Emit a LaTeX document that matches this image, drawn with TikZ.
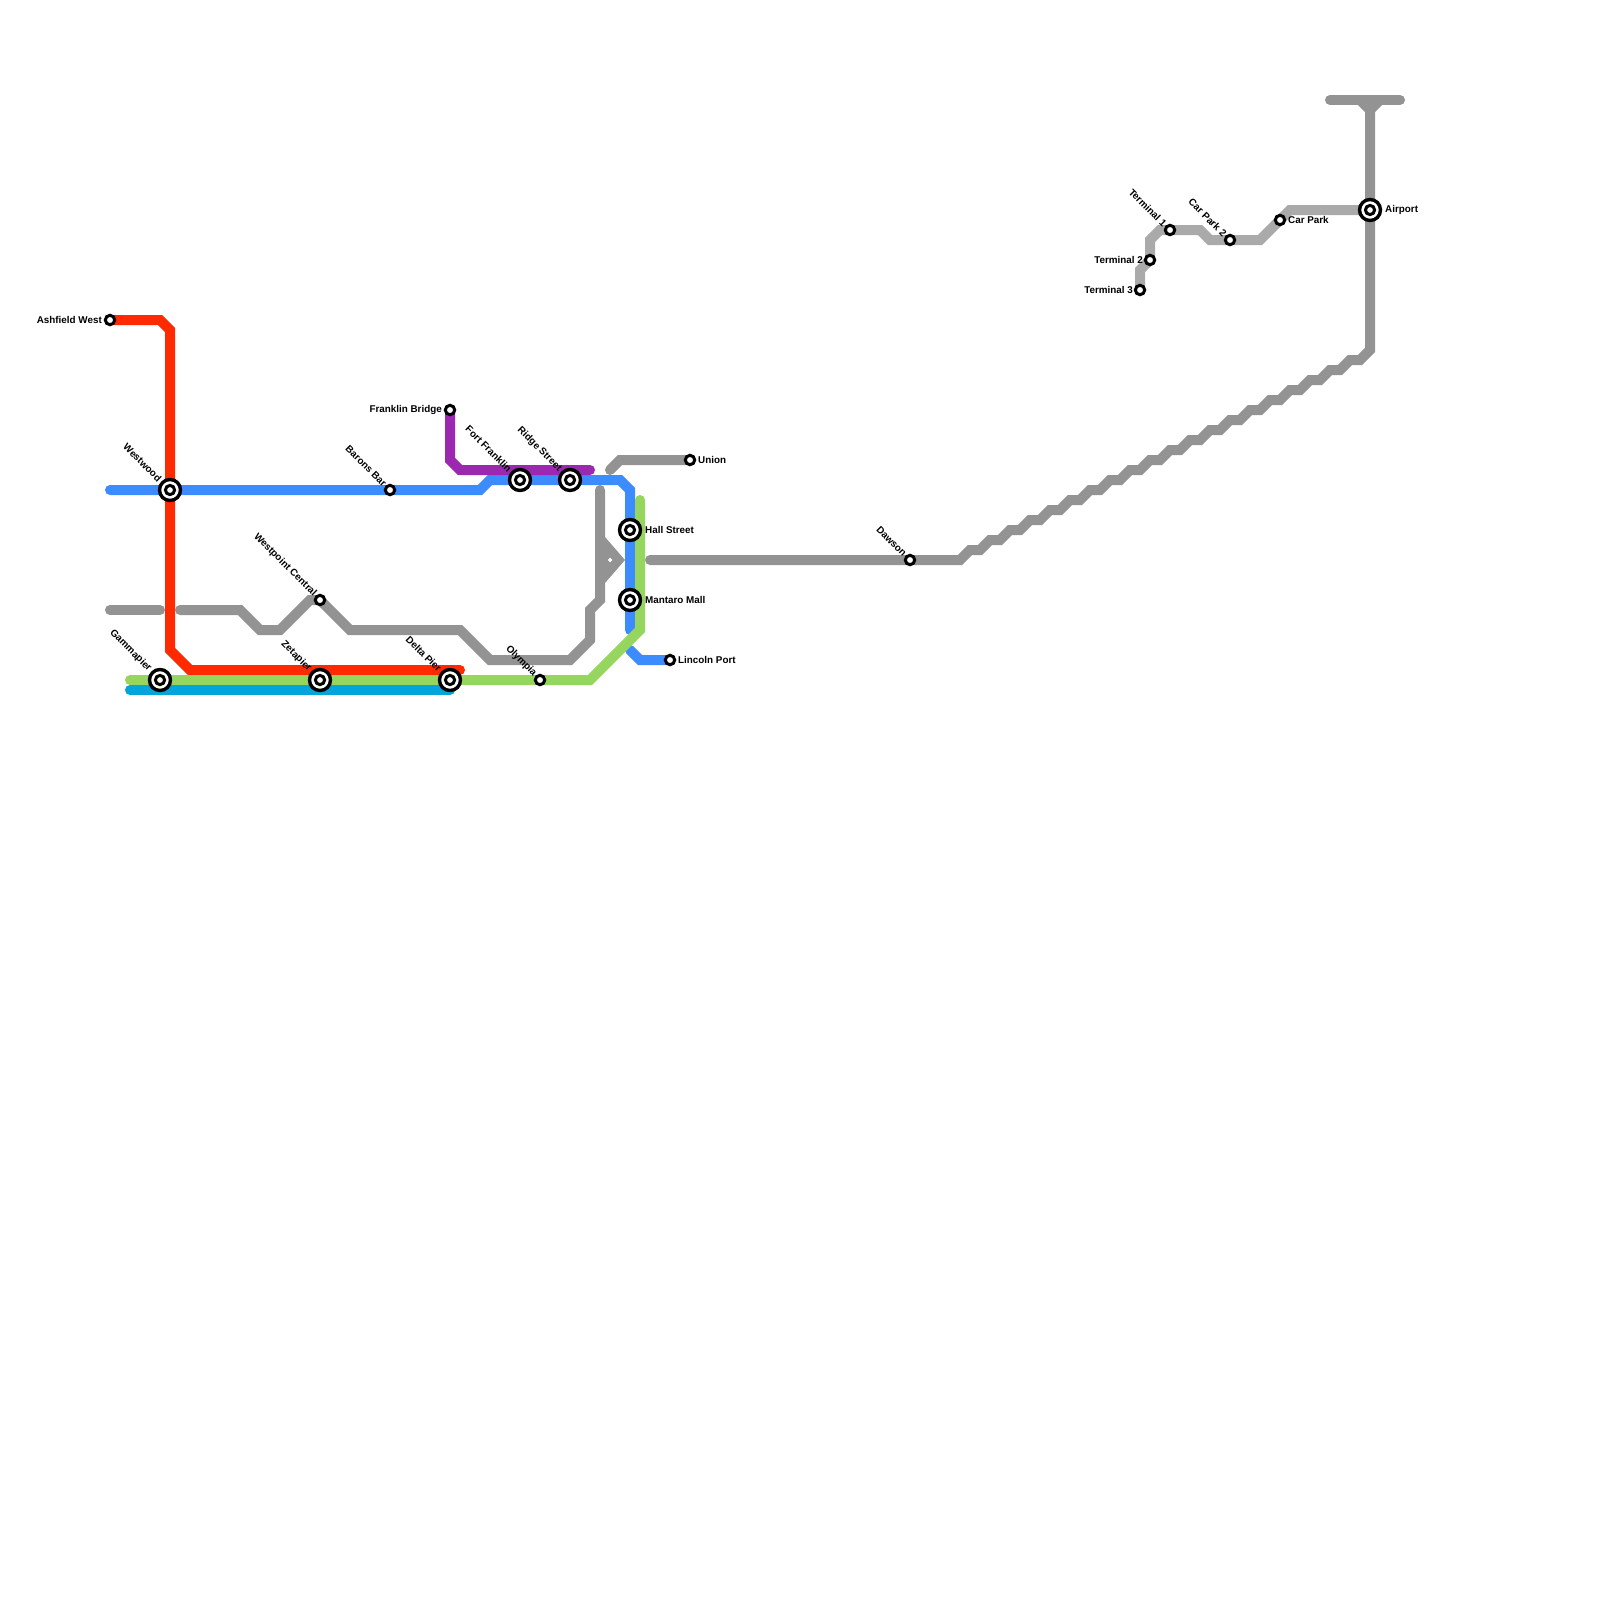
\documentclass[tikz,border=0pt]{standalone}
\usepackage{fontspec}
\setmainfont{Liberation Sans}
\definecolor{cgray}{HTML}{939393}
\definecolor{clight}{HTML}{AAAAAA}
\definecolor{cblue}{HTML}{3C8CFF}
\definecolor{cred}{HTML}{FF2A00}
\definecolor{cgreen}{HTML}{96D65F}
\definecolor{ccyan}{HTML}{00A5D9}
\definecolor{cpurple}{HTML}{9C27B0}
\tikzset{
  route/.style={line width=10pt,line cap=round,line join=miter,draw=#1},
  stop/.style={circle,draw=black,fill=white,line width=3pt,minimum size=9.4pt,inner sep=0pt},
  hub/.style={circle,draw=black,fill=white,line width=3.4pt,minimum size=21pt,inner sep=0pt},
  hubcore/.style={circle,draw=black,fill=white,line width=3pt,minimum size=9.2pt,inner sep=0pt},
  lab/.style={font=\fontsize{9.85}{12}\selectfont\bfseries,inner sep=0pt,text=black},
  labdiag/.style={lab,rotate=-45,anchor=east},
  labl/.style={lab,anchor=east},
  labr/.style={lab,anchor=west},
}
\begin{document}
\begin{tikzpicture}[x=1pt,y=-1pt]
\useasboundingbox (0,0) rectangle (1600,1600);
% station positions
\coordinate (ashfield) at (110,320);
\coordinate (westwood) at (170,490);
\coordinate (barons) at (390,490);
\coordinate (gamma) at (160,680);
\coordinate (zeta) at (320,680);
\coordinate (delta) at (450,680);
\coordinate (olympia) at (540,680);
\coordinate (fort) at (520,480);
\coordinate (ridge) at (570,480);
\coordinate (hall) at (630,530);
\coordinate (mantaro) at (630,600);
\coordinate (union) at (690,460);
\coordinate (lincoln) at (670,660);
\coordinate (franklin) at (450,410);
\coordinate (westpoint) at (320,600);
\coordinate (dawson) at (910,560);
\coordinate (airport) at (1370,210);
\coordinate (carpark) at (1280,220);
\coordinate (carpark2) at (1230,240);
\coordinate (term1) at (1170,230);
\coordinate (term2) at (1150,260);
\coordinate (term3) at (1140,290);
% grey lines
\draw[route=cgray] (110,610) -- (160,610);
\draw[route=cgray] (180,610) -- (240,610) -- (260,630) -- (280,630) -- (310,600) -- (westpoint) -- (350,630) -- (460,630) -- (490,660) -- (570,660) -- (590,640) -- (590,610) -- (600,600) -- (600,490);
\fill[cgray,even odd rule] (600,532) -- (605,537) -- (625,560) -- (605,583) -- (600,588) -- cycle (610,557.5) -- (612.5,560) -- (610,562.5) -- (607.5,560) -- cycle;
\draw[route=cgray] (610,470) -- (620,460) -- (union);
\draw[route=cgray] (650,560) -- (dawson) -- (960,560)
  \foreach \k in {0,...,19} { -- ({970+20*\k},{550-10*\k}) -- ({980+20*\k},{550-10*\k}) }
  -- (1370,350) -- (1370,110) -- (1360,100);
\draw[route=cgray] (1330,100) -- (1400,100);
\draw[route=cgray] (1380,100) -- (1370,110);
\draw[route=clight] (term3) -- (1140,270) -- (term2) -- (1150,240) -- (1160,230) -- (term1) -- (1200,230) -- (1210,240) -- (carpark2) -- (1260,240) -- (1290,210) -- (airport);
% coloured lines
\draw[route=cblue] (110,490) -- (westwood) -- (barons) -- (480,490) -- (490,480) -- (fort) -- (ridge) -- (620,480) -- (630,490) -- (hall) -- (mantaro) -- (630,630);
\draw[route=cblue] (630,650) -- (640,660) -- (lincoln);
\draw[route=cpurple] (franklin) -- (450,460) -- (460,470) -- (590,470);
\draw[route=cred] (ashfield) -- (160,320) -- (170,330) -- (westwood) -- (170,650) -- (190,670) -- (460,670);
\draw[route=cgreen] (130,680) -- (gamma) -- (zeta) -- (delta) -- (olympia) -- (590,680) -- (640,630) -- (640,500);
\draw[route=ccyan] (130,690) -- (450,690);
% stops
\foreach \n in {ashfield,barons,olympia,union,lincoln,franklin,westpoint,dawson,carpark,carpark2,term1,term2,term3}
  \node[stop] (st-\n) at (\n) {};
\foreach \n in {westwood,gamma,zeta,delta,fort,ridge,hall,mantaro,airport}
  { \node[hub] (st-\n) at (\n) {}; \node[hubcore] (core-\n) at (\n) {}; }
% labels
\node[labl] (l-ashfield) at (102,319.5) {Ashfield West};
\node[labl] (l-franklin) at (442,409.5) {Franklin Bridge};
\node[labl] (l-term2) at (1143,259.5) {Terminal 2};
\node[labl] (l-term3) at (1133,289.5) {Terminal 3};
\node[labr] (l-union) at (698,459.5) {Union};
\node[labr] (l-lincoln) at (678,659.5) {Lincoln Port};
\node[labr] (l-hall) at (645,529.5) {Hall Street};
\node[labr] (l-mantaro) at (645,599.5) {Mantaro Mall};
\node[labr] (l-carpark) at (1288,219.5) {Car Park};
\node[labr] (l-airport) at (1385,209.5) {Airport};
\node[labdiag] (l-westwood) at (160,480) {Westwood};
\node[labdiag] (l-gamma) at (150,670) {Gammapier};
\node[labdiag] (l-zeta) at (310,670) {Zetapier};
\node[labdiag] (l-delta) at (440,670) {Delta Pier};
\node[labdiag] (l-fort) at (510,470) {Fort Franklin};
\node[labdiag] (l-ridge) at (560,470) {Ridge Street};
\node[labdiag] (l-barons) at (385,485) {Barons Bar};
\node[labdiag] (l-westpoint) at (315,595) {Westpoint Central};
\node[labdiag] (l-olympia) at (535,675) {Olympia};
\node[labdiag] (l-dawson) at (905,555) {Dawson};
\node[labdiag] (l-term1) at (1165,225) {Terminal 1};
\node[labdiag] (l-carpark2) at (1225,235) {Car Park 2};
\end{tikzpicture}
\end{document}
